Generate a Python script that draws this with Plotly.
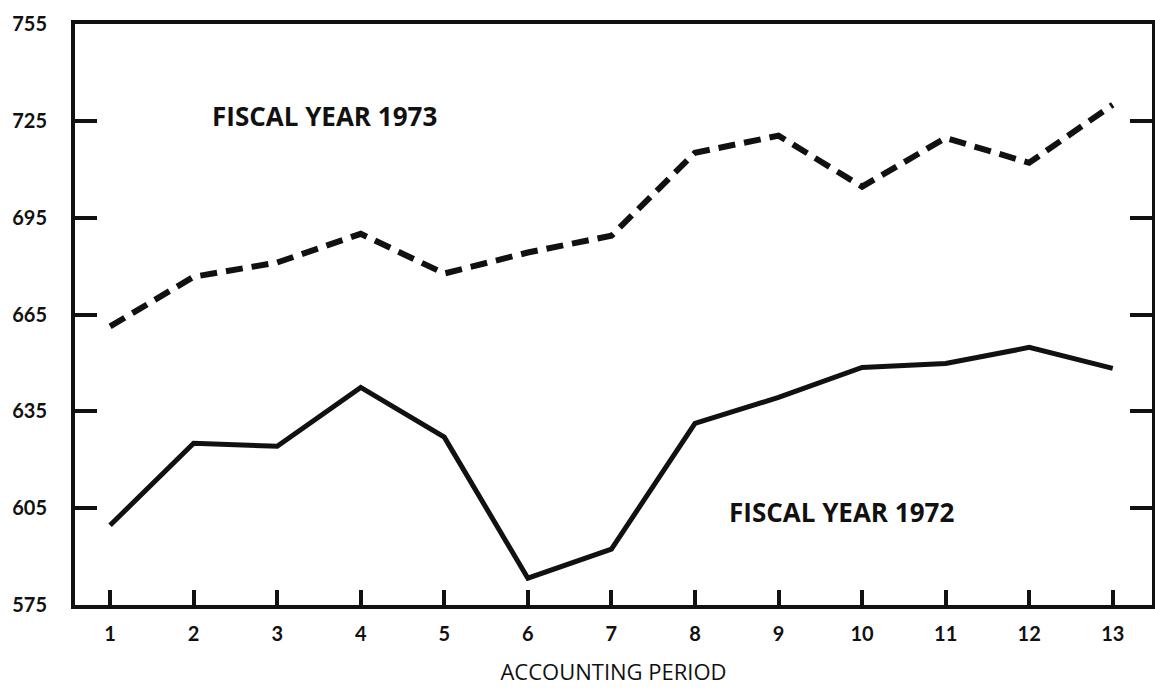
import plotly.graph_objects as go

periods = [1, 2, 3, 4, 5, 6, 7, 8, 9, 10, 11, 12, 13]
fy1973 = [661.3, 676.7, 681.1, 690.0, 677.7, 684.2, 689.4, 715.1, 720.4, 704.6, 719.7, 712.0, 730.0]
fy1972 = [599.7, 625.1, 624.2, 642.4, 627.0, 583.3, 592.3, 631.3, 639.3, 648.6, 649.8, 654.8, 648.3]
y_ticks = [575, 605, 635, 665, 695, 725, 755]

ink = "#111111"
font_family = "Lato, 'DejaVu Sans', sans-serif"
wide_family = "'Open Sans', 'Noto Sans', sans-serif"

fig = go.Figure()
fig.add_trace(go.Scatter(x=periods, y=fy1973, mode="lines",
                         line=dict(color=ink, width=6, dash="17px,9px"),
                         name="FISCAL YEAR 1973", showlegend=False))
fig.add_trace(go.Scatter(x=periods, y=fy1972, mode="lines",
                         line=dict(color=ink, width=5),
                         name="FISCAL YEAR 1972", showlegend=False))

fig.add_annotation(x=2.2, y=726.5, text="FISCAL YEAR 1973", showarrow=False,
                   xanchor="left", yanchor="middle",
                   font=dict(family=wide_family, size=26, color=ink, weight="bold"))
fig.add_annotation(x=8.38, y=603.7, text="FISCAL YEAR 1972", showarrow=False,
                   xanchor="left", yanchor="middle",
                   font=dict(family=wide_family, size=26, color=ink, weight="bold"))

fig.update_layout(
    width=1155, height=688,
    margin=dict(l=75, r=3, t=24, b=83),
    paper_bgcolor="white", plot_bgcolor="white",
    font=dict(family=font_family, color=ink),
)
fig.update_xaxes(
    range=[0.58, 13.47], tickmode="array", tickvals=periods,
    ticktext=[str(p) for p in periods],
    ticks="inside", ticklen=15, tickwidth=4, tickcolor=ink,
    showline=True, linewidth=4, linecolor=ink, mirror=True,
    showgrid=False, zeroline=False, automargin=False,
    tickfont=dict(size=20, weight="bold", color=ink),
    ticklabelstandoff=8,
    title=dict(text="ACCOUNTING PERIOD", standoff=22,
               font=dict(family=wide_family, size=22, color=ink)),
)
fig.update_yaxes(
    range=[575, 755], tickmode="array", tickvals=y_ticks,
    ticks="inside", ticklen=22, tickwidth=4, tickcolor=ink,
    showline=True, linewidth=4, linecolor=ink, mirror="ticks",
    showgrid=False, zeroline=False, automargin=False,
    tickfont=dict(size=20, weight="bold", color=ink),
    ticklabelstandoff=20,
)

fig.write_html("out.html", config={"displayModeBar": False},
               post_script="document.body.style.margin='0';")
